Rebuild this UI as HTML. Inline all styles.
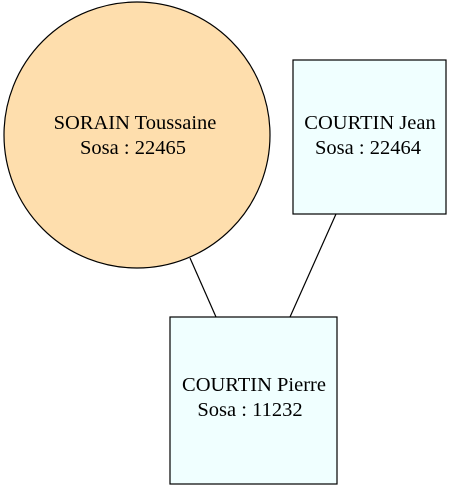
<!DOCTYPE html>
<html><head><style>html,body{margin:0;padding:0;background:#fff;}</style></head>
<body>
<svg width="453" height="491" xmlns="http://www.w3.org/2000/svg" style="display:block">
<rect width="453" height="491" fill="#fff"/>
<line x1="190" y1="258" x2="216" y2="317" stroke="#000" stroke-width="1.2"/>
<line x1="336" y1="214" x2="290" y2="317" stroke="#000" stroke-width="1.2"/>
<circle cx="137" cy="135" r="133" fill="#fedead" stroke="#000" stroke-width="1.2"/>
<rect x="293" y="60" width="153" height="154" fill="#f0ffff" stroke="#000" stroke-width="1.2"/>
<rect x="170" y="317" width="167" height="167" fill="#f0ffff" stroke="#000" stroke-width="1.2"/>
<g font-family="Liberation Serif, serif" font-size="20.5" text-anchor="middle" fill="#000">
<text x="135" y="129">SORAIN Toussaine</text>
<text x="133" y="154">Sosa : 22465</text>
<text x="370" y="129">COURTIN Jean</text>
<text x="368" y="154">Sosa : 22464</text>
<text x="254" y="391">COURTIN Pierre</text>
<text x="250" y="416">Sosa : 11232</text>
</g>
</svg>
</body></html>
